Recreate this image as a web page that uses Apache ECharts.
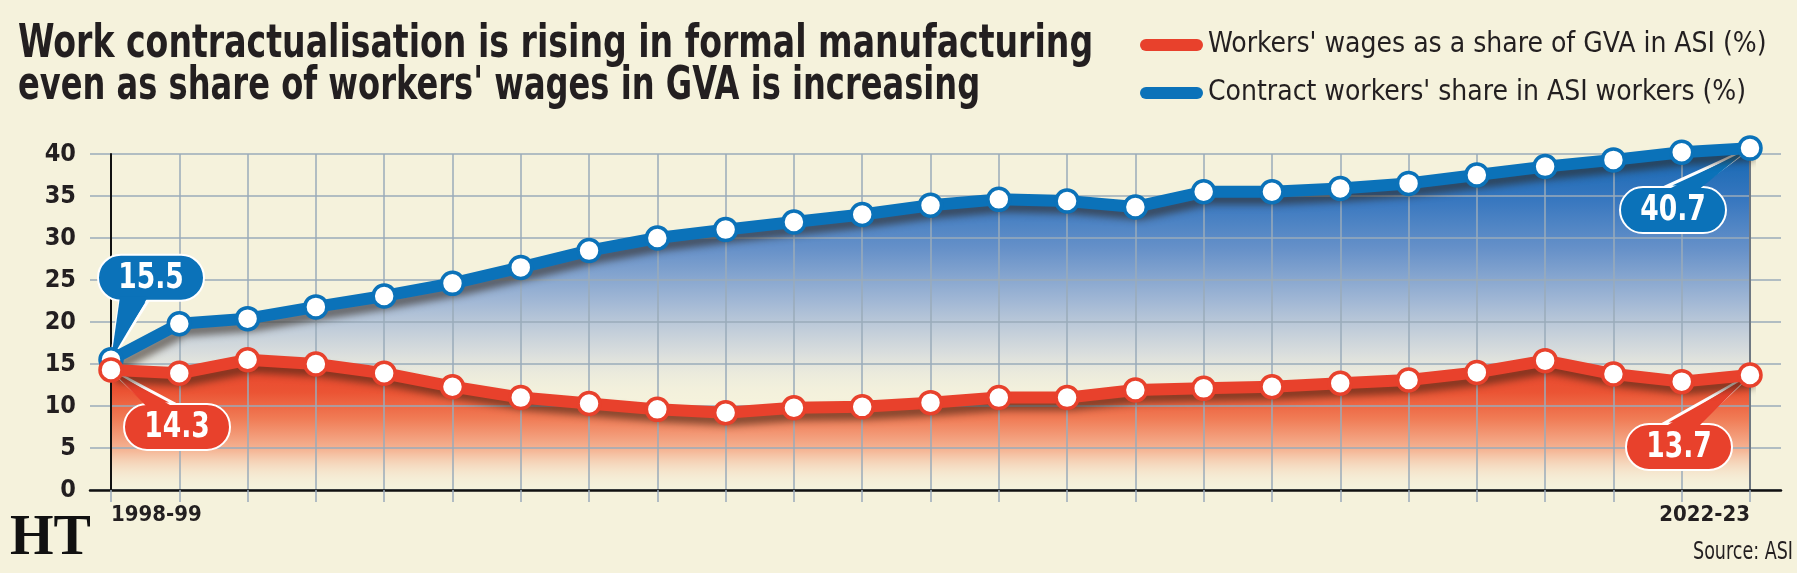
<!DOCTYPE html>
<html>
<head>
<meta charset="utf-8">
<title>Work contractualisation in formal manufacturing</title>
<script src="https://cdn.jsdelivr.net/npm/echarts@6.0.0/dist/echarts.min.js"></script>
<style>
  html, body { margin: 0; padding: 0; background: #f5f2dc; }
  #chart { width: 1797px; height: 573px; }
</style>
</head>
<body>
<div id="chart"></div>
<script>
// values (source: ASI)
var years = ['1998-99', '1999-00', '2000-01', '2001-02', '2002-03', '2003-04', '2004-05',
    '2005-06', '2006-07', '2007-08', '2008-09', '2009-10', '2010-11', '2011-12', '2012-13',
    '2013-14', '2014-15', '2015-16', '2016-17', '2017-18', '2018-19', '2019-20', '2020-21',
    '2021-22', '2022-23'];
// workers' wages as a share of GVA (%)
var wagesShare = [14.3, 13.9, 15.5, 15.0, 13.9, 12.3, 11.0, 10.3, 9.6, 9.2, 9.8, 9.9, 10.4,
    11.0, 11.0, 11.9, 12.1, 12.3, 12.7, 13.1, 14.0, 15.4, 13.8, 12.9, 13.7];
// contract workers' share in ASI workers (%)
var contractShare = [15.5, 19.8, 20.4, 21.8, 23.1, 24.6, 26.5, 28.5, 30.0, 31.0, 31.9, 32.8,
    33.9, 34.6, 34.4, 33.7, 35.5, 35.5, 35.9, 36.5, 37.5, 38.5, 39.3, 40.2, 40.7];

var titleLines = ['Work contractualisation is rising in formal manufacturing',
    'even as share of workers\' wages in GVA is increasing'];
var wagesName = "Workers' wages as a share of GVA in ASI (%)";
var contractName = "Contract workers' share in ASI workers (%)";

var RED = '#e8412c';
var BLUE = '#0b72b9';
var GRID = '#9aabba';
var INK = '#231f20';
var COND = '"DejaVu Sans Condensed", "DejaVu Sans", sans-serif';
var PILL = 'path://M6,0 L57,0 A6,6 0 0 1 57,12 L6,12 A6,6 0 0 1 6,0 Z';

var lineShadow = {
    shadowColor: 'rgba(50,35,20,0.55)',
    shadowBlur: 7,
    shadowOffsetX: 5,
    shadowOffsetY: 7
};

function lineSeries(name, data, color, z) {
    return {
        name: name,
        type: 'line',
        xAxisIndex: 1,
        yAxisIndex: 1,
        data: data,
        z: z,
        clip: false,   // last contract value (40.7) sits above the 40 gridline
        symbol: 'circle',
        symbolSize: 22,
        lineStyle: Object.assign({ color: color, width: 12, join: 'round' }, lineShadow),
        itemStyle: { color: '#ffffff', borderColor: color, borderWidth: 3.5 },
        emphasis: { disabled: true }
    };
}

function areaSeries(name, data, stops) {
    return {
        name: name,
        type: 'line',
        xAxisIndex: 1,
        yAxisIndex: 1,
        data: data,
        z: 1,
        clip: false,
        silent: true,
        symbol: 'none',
        lineStyle: { width: 0 },
        areaStyle: {
            opacity: 1,
            color: new echarts.graphic.LinearGradient(0, 0, 0, 1, stops)
        }
    };
}

var option = {
    animation: false,
    backgroundColor: '#f5f2dc',
    legend: {
        orient: 'vertical',
        left: 1140,
        top: 31,
        padding: 0,
        itemWidth: 63,
        itemHeight: 13,
        itemGap: 20,
        selectedMode: false,
        textStyle: { fontFamily: COND, fontSize: 28, color: INK },
        data: [
            { name: wagesName, icon: PILL, itemStyle: { color: RED, borderWidth: 0, shadowColor: 'transparent' } },
            { name: contractName, icon: PILL, itemStyle: { color: BLUE, borderWidth: 0, shadowColor: 'transparent' } }
        ]
    },
    grid: [
        // wide grid: horizontal gridlines, y labels and the base line
        { left: 90, right: 16, top: 154, height: 336 },
        // data grid: first and last year sit on its edges
        { left: 111, right: 47, top: 154, height: 336 }
    ],
    xAxis: [{
        gridIndex: 0,
        type: 'value',
        min: 0,
        max: 1,
        z: 2,
        axisLine: { show: true, onZero: false, lineStyle: { color: '#111', width: 2.5 } },
        axisTick: { show: false },
        axisLabel: { show: false },
        splitLine: { show: false }
    }, {
        gridIndex: 1,
        type: 'category',
        data: years,
        boundaryGap: false,
        z: 2,
        axisLine: { show: false },
        axisTick: { show: true, interval: 0, length: 12, lineStyle: { color: GRID, width: 1.5 } },
        axisLabel: {
            interval: 23,
            margin: 14,
            alignMinLabel: 'left',
            alignMaxLabel: 'right',
            fontFamily: COND,
            fontSize: 22,
            fontWeight: 'bold',
            color: INK
        },
        splitLine: { show: true, interval: 0, lineStyle: { color: GRID, width: 1.5 } }
    }],
    yAxis: [{
        gridIndex: 0,
        type: 'value',
        min: 0,
        max: 40,
        interval: 5,
        z: 2,
        axisLine: { show: false },
        axisTick: { show: false },
        axisLabel: { margin: 14, fontFamily: COND, fontSize: 25, fontWeight: 'bold', color: INK },
        splitLine: { lineStyle: { color: GRID, width: 1.5 } }
    }, {
        gridIndex: 1,
        type: 'value',
        min: 0,
        max: 40,
        interval: 5,
        z: 2,
        axisLine: { show: true, lineStyle: { color: '#111', width: 2 } },
        axisTick: { show: false },
        axisLabel: { show: false },
        splitLine: { show: false }
    }, {
        gridIndex: 1,
        type: 'value',
        position: 'right',
        min: 0,
        max: 40,
        interval: 5,
        z: 2,
        axisLine: { show: true, lineStyle: { color: '#6e7882', width: 2 } },
        axisTick: { show: false },
        axisLabel: { show: false },
        splitLine: { show: false }
    }],
    series: [
        areaSeries('contractArea', contractShare, [
            { offset: 0, color: '#1367b2' },
            { offset: 0.15, color: '#3777bf' },
            { offset: 0.3, color: '#6892c9' },
            { offset: 0.45, color: '#a2b8d5' },
            { offset: 0.6, color: 'rgba(214,219,221,0.9)' },
            { offset: 0.75, color: 'rgba(245,242,220,0)' }
        ]),
        areaSeries('wagesArea', wagesShare, [
            { offset: 0, color: '#e8432b' },
            { offset: 0.25, color: '#eb5434' },
            { offset: 0.45, color: '#f07b55' },
            { offset: 0.7, color: '#f5b797' },
            { offset: 1, color: 'rgba(245,242,220,0)' }
        ]),
        lineSeries(contractName, contractShare, BLUE, 4),
        lineSeries(wagesName, wagesShare, RED, 5)
    ]
};

var chart = echarts.init(document.getElementById('chart'));
chart.setOption(option);

// condensed text: the HT face is much narrower than anything installed
function narrowText(str, x, y, size, weight, align, scaleX, color, z) {
    return {
        type: 'text', z: z || 20, x: x, y: y, scaleX: scaleX,
        style: {
            text: str, x: 0, y: 0,
            align: align, verticalAlign: 'middle',
            fill: color || INK,
            fontFamily: COND, fontSize: size, fontWeight: weight
        }
    };
}

// value callouts: rounded box with a wedge pointing at the first/last point,
// kept under the line series so the end markers sit on the wedge tip
function callout(data, idx, color, dx, dy, b0, b1) {
    var p = chart.convertToPixel({ gridIndex: 1 }, [idx, data[idx]]);
    var w = 106, h = 46;
    var cx = p[0] + dx, cy = p[1] + dy;
    var edge = dy > 0 ? cy - h / 2 : cy + h / 2;
    var inner = dy > 0 ? edge + 4 : edge - 4;
    return [{
        type: 'polygon', z: 3,
        shape: { points: [[p[0], p[1]], [p[0] + b0, edge], [p[0] + b1, edge]] },
        style: { fill: color, stroke: '#fff', lineWidth: 3 }
    }, {
        type: 'rect', z: 3,
        shape: { x: cx - w / 2, y: cy - h / 2, width: w, height: h, r: h / 2 },
        style: { fill: color, stroke: '#fff', lineWidth: 2 }
    }, {
        type: 'polygon', z: 3,
        shape: { points: [[p[0], p[1]], [p[0] + b0, inner], [p[0] + b1, inner]] },
        style: { fill: color }
    }, narrowText(data[idx].toFixed(1), cx, cy + 1, 36, 'bold', 'center', 0.82, '#fff', 3)];
}

var last = years.length - 1;
var marks = [].concat(
    [
        narrowText(titleLines[0], 18, 45, 47, 'bold', 'left', 0.784),
        narrowText(titleLines[1], 18, 87, 47, 'bold', 'left', 0.76),
        narrowText('Source: ASI', 1693, 552, 25, 'normal', 'left', 0.78),
        {
            type: 'text', z: 20, x: 10, y: 540,
            style: {
                text: 'HT', x: 0, y: 0, align: 'left', verticalAlign: 'middle', fill: '#111',
                fontFamily: '"Liberation Serif", "DejaVu Serif", serif', fontSize: 56, fontWeight: 'bold'
            }
        }
    ],
    callout(contractShare, 0, BLUE, 40, -82, 9, 37),
    callout(wagesShare, 0, RED, 66, 57, 37, 64),
    callout(contractShare, last, BLUE, -77, 62, -85, -53),
    callout(wagesShare, last, RED, -71, 72, -87, -53)
);
chart.setOption({ graphic: marks });
</script>
</body>
</html>
